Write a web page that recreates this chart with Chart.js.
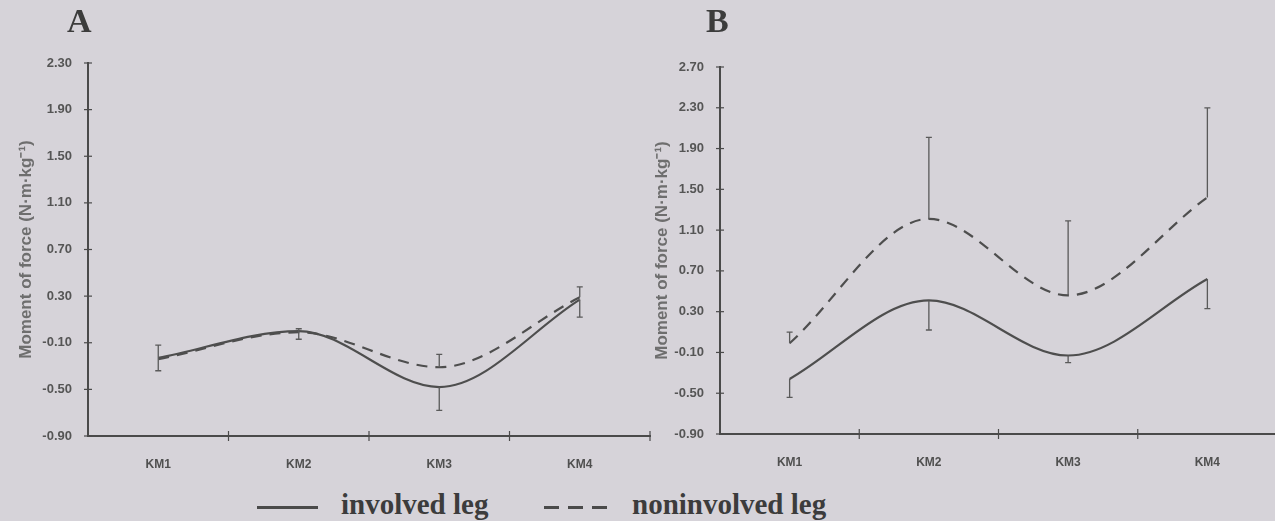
<!DOCTYPE html>
<html>
<head>
<meta charset="utf-8">
<script src="https://cdn.jsdelivr.net/npm/chart.js@4.4.0/dist/chart.umd.min.js"></script>
<style>
  html, body { margin:0; padding:0; width:1275px; height:521px; overflow:hidden; background:#d6d3d9; }
  #wrap { position:relative; width:1275px; height:521px; overflow:hidden; }
  canvas { position:absolute; }
  .lbl { position:absolute; font-family:"Liberation Serif","Times New Roman",serif; font-weight:bold; color:#3c3c3c; line-height:1; white-space:nowrap; }
  .seg { position:absolute; height:3px; background:#4a4a4a; }
</style>
</head>
<body>
<div id="wrap">
  <canvas id="chartA" width="660" height="480" style="left:0;top:0"></canvas>
  <canvas id="chartB" width="660" height="480" style="left:630px;top:0"></canvas>
  <div class="lbl" style="left:67px;top:4px;font-size:34px;">A</div>
  <div class="lbl" style="left:706px;top:4px;font-size:34px;">B</div>
  <div class="seg" style="left:257px;top:506px;width:61px;"></div>
  <div class="lbl" style="left:341px;top:490px;font-size:29px;">involved leg</div>
  <div class="seg" style="left:544px;top:506px;width:15px;"></div>
  <div class="seg" style="left:568px;top:506px;width:15px;"></div>
  <div class="seg" style="left:592px;top:506px;width:15px;"></div>
  <div class="lbl" style="left:632px;top:490px;font-size:29px;">noninvolved leg</div>
</div>
<script>
// ---- data ----
const categories = ["KM1", "KM2", "KM3", "KM4"];

// Panel A
const aInvolved         = [-0.23, 0.00, -0.48, 0.27];
const aInvolvedErrUp    = [0.11, 0.02, 0.00, 0.00];
const aInvolvedErrDown  = [0.11, 0.07, 0.20, 0.15];
const aNoninvolved      = [-0.24, -0.01, -0.31, 0.29];
const aNoninvolvedErrUp = [0.00, 0.00, 0.11, 0.09];
const aNoninvolvedErrDown = [0.00, 0.00, 0.00, 0.00];
const aTicks = [-0.90, -0.50, -0.10, 0.30, 0.70, 1.10, 1.50, 1.90, 2.30];

// Panel B
const bInvolved         = [-0.36, 0.41, -0.13, 0.62];
const bInvolvedErrUp    = [0.00, 0.00, 0.00, 0.00];
const bInvolvedErrDown  = [0.18, 0.29, 0.07, 0.29];
const bNoninvolved      = [-0.01, 1.21, 0.46, 1.42];
const bNoninvolvedErrUp = [0.11, 0.80, 0.73, 0.88];
const bNoninvolvedErrDown = [0.00, 0.00, 0.00, 0.00];
const bTicks = [-0.90, -0.50, -0.10, 0.30, 0.70, 1.10, 1.50, 1.90, 2.30, 2.70];

const yTitle = "Moment of force (N·m·kg⁻¹)";
const lineColor = "#4e4e4e";
const axisColor = "#4a4a4a";

// error bars via scales
const errorBarPlugin = {
  id: "errorBars",
  afterDatasetsDraw(chart, args, opts) {
    const ctx = chart.ctx, xs = chart.scales.x, ys = chart.scales.y;
    ctx.save();
    ctx.strokeStyle = opts.color || "#555";
    ctx.lineWidth = opts.width || 1.3;
    chart.data.datasets.forEach(ds => {
      ds.data.forEach((v, i) => {
        const x = xs.getPixelForValue(i);
        const up = ds.errUp ? ds.errUp[i] : 0;
        const dn = ds.errDown ? ds.errDown[i] : 0;
        const y0 = ys.getPixelForValue(v);
        const cw = opts.cap || 3;
        [[up, 1], [dn, -1]].forEach(([e, s]) => {
          if (!e) return;
          const y1 = ys.getPixelForValue(v + s * e);
          ctx.beginPath();
          ctx.moveTo(x, y0); ctx.lineTo(x, y1);
          ctx.moveTo(x - cw, y1); ctx.lineTo(x + cw, y1);
          ctx.stroke();
        });
      });
    });
    ctx.restore();
  }
};

// cross tick marks on both axes
const crossTicksPlugin = {
  id: "crossTicks",
  afterDraw(chart) {
    const ctx = chart.ctx, xs = chart.scales.x, ys = chart.scales.y;
    const ca = chart.chartArea;
    ctx.save();
    ctx.strokeStyle = axisColor;
    ctx.lineWidth = 1.2;
    ys.ticks.forEach((t, i) => {
      const y = ys.getPixelForTick(i);
      ctx.beginPath(); ctx.moveTo(ca.left - 4, y); ctx.lineTo(ca.left + 4, y); ctx.stroke();
    });
    const n = chart.data.labels.length;
    for (let i = 1; i <= n; i++) {
      const x = (i < n) ? (xs.getPixelForValue(i - 1) + xs.getPixelForValue(i)) / 2
                        : xs.getPixelForValue(n - 1) + (xs.getPixelForValue(n - 1) - xs.getPixelForValue(n - 2)) / 2;
      ctx.beginPath(); ctx.moveTo(x, ca.bottom - 5); ctx.lineTo(x, ca.bottom + 5); ctx.stroke();
    }
    ctx.restore();
  }
};

function makeChart(id, cfg) {
  const ds = [
    { label: "involved leg", data: cfg.inv, errUp: cfg.invUp, errDown: cfg.invDn,
      borderColor: lineColor, borderWidth: 2.2, pointRadius: 0, fill: false,
      cubicInterpolationMode: "monotone" },
    { label: "noninvolved leg", data: cfg.non, errUp: cfg.nonUp, errDown: cfg.nonDn,
      borderColor: lineColor, borderWidth: 2.2, borderDash: [11, 8], pointRadius: 0, fill: false,
      cubicInterpolationMode: "monotone" }
  ];
  return new Chart(document.getElementById(id), {
    type: "line",
    data: { labels: categories, datasets: ds },
    options: {
      responsive: false, animation: false,
      layout: { padding: { top: cfg.top, right: cfg.right, left: 0, bottom: 0 } },
      plugins: { legend: { display: false }, tooltip: { enabled: false },
                 errorBars: { color: "#5a5a5a", width: 1.3, cap: cfg.cap } },
      scales: {
        x: {
          type: "category", offset: true,
          grid: { display: false },
          border: { display: true, color: axisColor, width: 2 },
          ticks: { color: "#505050", padding: 13, font: { family: "Liberation Sans, Arial", size: 12, weight: "bold" } },
          afterFit(s) { s.height = cfg.xh; }
        },
        y: {
          min: cfg.ticks[0], max: cfg.ticks[cfg.ticks.length - 1],
          afterBuildTicks(s) { s.ticks = cfg.ticks.map(v => ({ value: v })); },
          grid: { display: false },
          border: { display: true, color: axisColor, width: 2 },
          ticks: { color: "#555", padding: 8, font: { family: "Liberation Sans, Arial", size: 13, weight: "bold" },
                   callback: v => Number(v).toFixed(2) },
          title: { display: true, text: yTitle, color: "#6e6e6e", padding: { top: cfg.tp, bottom: 0 },
                   font: { family: "Liberation Sans, Arial", size: 17, weight: "bold" } },
          afterFit(s) { s.width = cfg.yw; }
        }
      }
    },
    plugins: [errorBarPlugin, crossTicksPlugin]
  });
}

makeChart("chartA", { inv: aInvolved, invUp: aInvolvedErrUp, invDn: aInvolvedErrDown,
  non: aNoninvolved, nonUp: aNoninvolvedErrUp, nonDn: aNoninvolvedErrDown,
  ticks: aTicks, top: 63, right: 10, xh: 44, yw: 88, tp: 16, cap: 3 });

makeChart("chartB", { inv: bInvolved, invUp: bInvolvedErrUp, invDn: bInvolvedErrDown,
  non: bNoninvolved, nonUp: bNoninvolvedErrUp, nonDn: bNoninvolvedErrDown,
  ticks: bTicks, top: 67, right: 13, xh: 46, yw: 90, tp: 22, cap: 3 });
</script>
</body>
</html>
